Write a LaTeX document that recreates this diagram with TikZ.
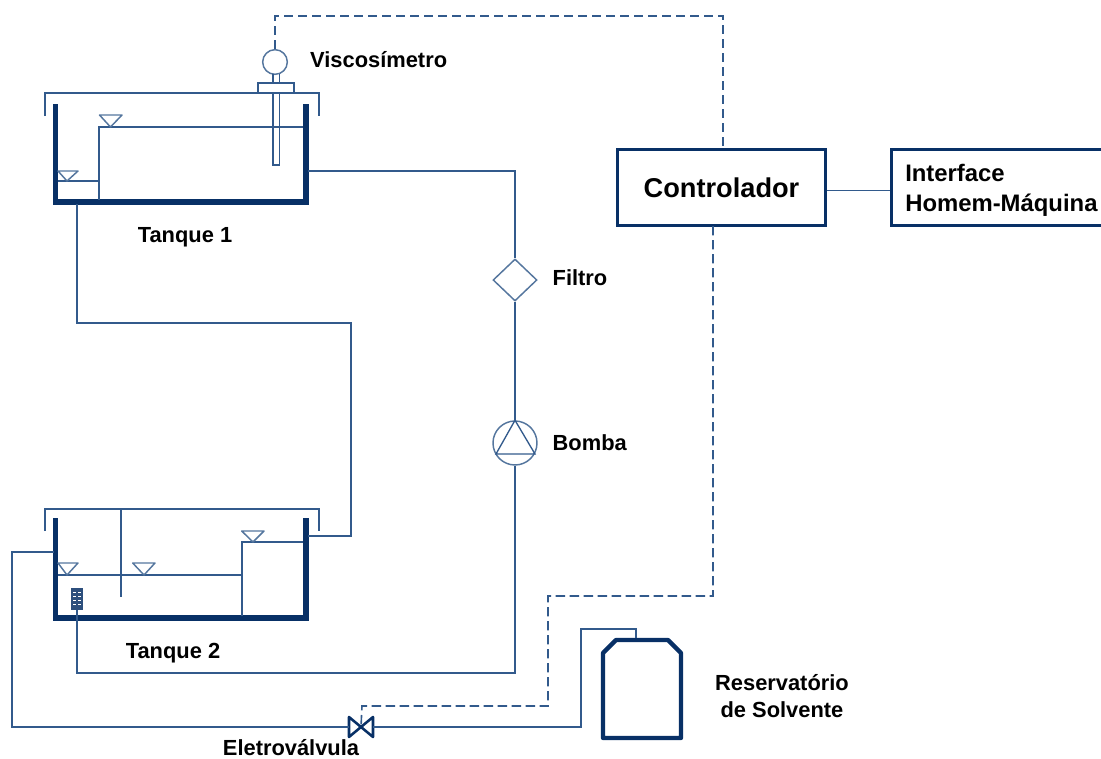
\documentclass[tikz,border=0pt]{standalone}
\usepackage{fontspec}
\setmainfont{Liberation Sans}
\usetikzlibrary{arrows.meta, positioning, calc, shapes.geometric}

\definecolor{pipeblue}{RGB}{50,90,140}
\definecolor{wallblue}{RGB}{8,48,102}
\definecolor{softblue}{RGB}{85,118,158}

\begin{document}
\begin{tikzpicture}[
    x=0.75pt, y=-0.75pt,
    pipe/.style={draw=pipeblue, line width=1pt},
    signal/.style={draw=pipeblue, line width=1.2pt, dash pattern=on 7pt off 3.5pt},
    wall/.style={draw=wallblue, line width=4pt, line cap=butt, line join=miter},
    level/.style={draw=softblue, line width=1.1pt, line join=round},
    lbl/.style={font=\fontsize{16.4pt}{20pt}\selectfont\bfseries, text=black, inner sep=0pt, align=#1},
    lbl/.default=left,
    mainbox/.style={
        rectangle, draw=wallblue, line width=2.2pt, fill=white,
        minimum height=57.5pt, inner sep=0pt
    },
]

\useasboundingbox (0,0) rectangle (1101,758);

% ============================================================
% Tanque 1
% ============================================================

\draw[wall] (55.5,104) -- (55.5,202) -- (306,202) -- (306,104);
\draw[pipe] (45,116) -- (45,93) -- (319,93) -- (319,116);
\draw[pipe] (58,181) -- (99,181) (99,200) -- (99,127) -- (303,127);
\draw[level] (58,171) -- (78,171) -- (67,181) -- cycle;
\draw[level] (99.5,115) -- (122,115) -- (110.5,127) -- cycle;

% Viscosimeter
\node[circle, draw=softblue, line width=1.1pt, minimum size=18.5pt, inner sep=0pt] (visc) at (275,62) {};
\draw[pipe] (273,74) -- (273,83) (279.5,74) -- (279.5,83);
\draw[pipe] (258,93) -- (258,83) -- (294,83) -- (294,93);
\draw[pipe, fill=white] (273,93) rectangle (279.5,165);
\draw[pipe] (273,127) -- (279.5,127);
\node[lbl, right=26.2pt of visc.center, yshift=1.5pt] (lvisc) {Viscosímetro};

\coordinate (t1right) at (308,171);
\coordinate (t1bottom) at (77,204);
\node[lbl] (ltank1) at (185,237) {Tanque 1};

% ============================================================
% Tanque 2
% ============================================================

\draw[wall] (55.5,518) -- (55.5,618) -- (306,618) -- (306,518);
\draw[pipe] (45,531) -- (45,509) -- (319,509) -- (319,531);
\draw[pipe] (121,509) -- (121,597);
\draw[pipe] (58,575) -- (242,575) (242,616) -- (242,542) -- (303,542);
\draw[level] (58,563) -- (78,563) -- (67,575) -- cycle;
\draw[level] (132.7,563) -- (155,563) -- (144,575) -- cycle;
\draw[level] (241.7,531) -- (264,531) -- (253,542) -- cycle;

% Sensor
\node[rectangle, fill=wallblue!85!white, minimum width=9.5pt, minimum height=16.5pt, inner sep=0pt] (sensor) at (77,599) {};
\foreach \yy in {592,596,600,604}
    \draw[white, line width=0.6pt, dash pattern=on 2.2pt off 1.4pt] (73,\yy) -- (81,\yy);

\coordinate (t2right) at (308,536);
\coordinate (t2left) at (54,552);
\node[lbl] (ltank2) at (173,653) {Tanque 2};

% ============================================================
% Filtro, Bomba
% ============================================================

\node[diamond, draw=softblue, line width=1.1pt, minimum width=33pt, minimum height=31.5pt, inner sep=0pt] (filter) at (515,280) {};
\node[lbl, right=11pt of filter.east, yshift=1.5pt] (lfilter) {Filtro};

\node[circle, draw=softblue, line width=1.1pt, minimum size=33pt, inner sep=0pt] (pump) at (515,443) {};
\draw[pipe] (pump.north) -- (496,454) -- (535,454) -- cycle;
\node[lbl, right=11pt of pump.east] (lpump) {Bomba};

% ============================================================
% Controlador, Interface
% ============================================================

\node[mainbox, minimum width=156pt, font=\fontsize{20.4pt}{24pt}\selectfont\bfseries, text depth=0pt] (ctrl) at (721.5,187.5) {Controlador};
\node[mainbox, minimum width=162pt, anchor=west] (hmi) at (890,187.5) {};
\node[lbl, anchor=west, font=\fontsize{17.9pt}{22.5pt}\selectfont\bfseries] (lhmi) at (905,190) {Interface\\Homem-Máquina};

% ============================================================
% Eletrovalvula, Reservatorio
% ============================================================

\coordinate (valve) at (361,727);
\draw[draw=wallblue, line width=1.9pt, line join=round]
    (349,717) -- (373,737) -- (373,717) -- (349,737) -- cycle;
\node[lbl] (lvalve) at (291,747.5) {Eletroválvula};

\draw[draw=wallblue, line width=3.2pt, line join=round]
    (603,738) -- (603,653) -- (616,640) -- (668,640) -- (681,653) -- (681,738) -- cycle;
\coordinate (restop) at (636,638);
\node[lbl=center] (lres) at (782,696) {Reservatório\\de Solvente};

% ============================================================
% Pipes and signals
% ============================================================

\draw[pipe] (t1right) -| (filter.north);
\draw[pipe] (filter.south) -- (pump.north);
\draw[pipe] (pump.south) |- (77,673) -- (sensor.south);
\draw[pipe] (t1bottom) |- (351,323) |- (t2right);
\draw[pipe] (t2left) -- (12,552) |- (349,727);
\draw[pipe] (373,727) -| (581,629) -| (restop);
\draw[pipe] (ctrl.east |- 0,190.5) -- (hmi.west |- 0,190.5);

\draw[signal] (visc.north) -- (275,16) -| (723,149);
\draw[signal] (713,226) |- (548,596) |- (362,706) -- (valve);

\end{tikzpicture}
\end{document}
